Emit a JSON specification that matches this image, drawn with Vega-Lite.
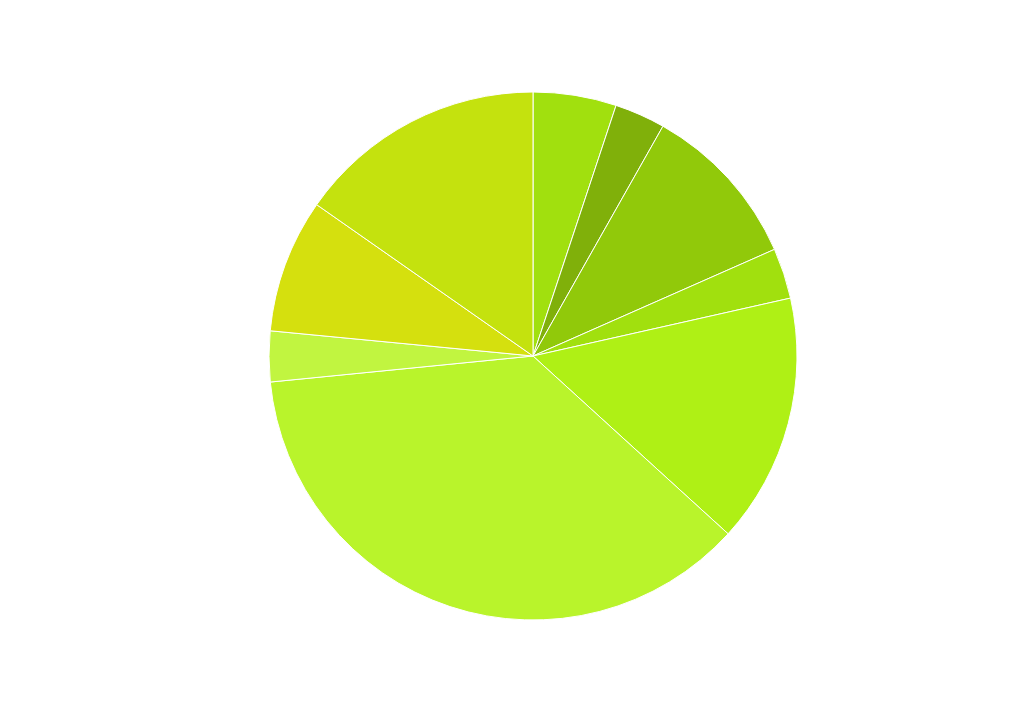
{
  "$schema": "https://vega.github.io/schema/vega-lite/v6.json",
  "width": 982,
  "height": 702,
  "padding": {"left": 42, "top": 5, "right": 0, "bottom": 0},
  "background": "white",
  "view": {"stroke": null},
  "data": {
    "values": [
      {"slice": "S1", "order": 1, "share": 5.1},
      {"slice": "S2", "order": 2, "share": 3.1},
      {"slice": "S3", "order": 3, "share": 10.2},
      {"slice": "S4", "order": 4, "share": 3.1},
      {"slice": "S5", "order": 5, "share": 15.3},
      {"slice": "S6", "order": 6, "share": 36.7},
      {"slice": "S7", "order": 7, "share": 3.1},
      {"slice": "S8", "order": 8, "share": 8.2},
      {"slice": "S9", "order": 9, "share": 15.3}
    ]
  },
  "mark": {"type": "arc", "outerRadius": 264, "stroke": "white", "strokeWidth": 1},
  "encoding": {
    "theta": {"field": "share", "type": "quantitative", "stack": true},
    "order": {"field": "order", "type": "quantitative"},
    "color": {
      "field": "slice",
      "type": "nominal",
      "legend": null,
      "scale": {
        "domain": ["S1", "S2", "S3", "S4", "S5", "S6", "S7", "S8", "S9"],
        "range": ["#a1e00e", "#80b00a", "#91c90a", "#a1e00e", "#aff015", "#b9f42b", "#c1f540", "#d5e00e", "#c4e20e"]
      }
    }
  }
}
